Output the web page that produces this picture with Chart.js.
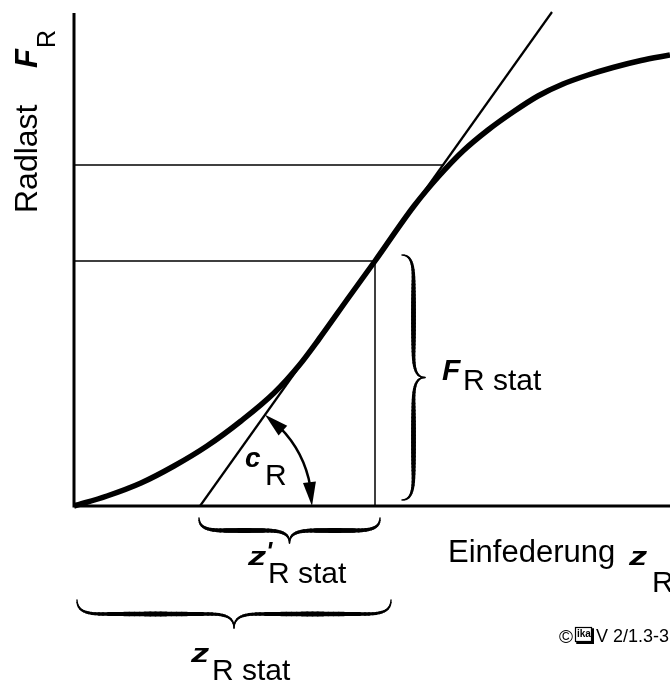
<!DOCTYPE html>
<html lang="de">
<head>
<meta charset="utf-8">
<title>Radlast über Einfederung</title>
<script src="https://cdn.jsdelivr.net/npm/chart.js@4.4.1/dist/chart.umd.min.js"></script>
<style>
  html, body { margin: 0; padding: 0; background: #fff; }
  canvas { display: block; }
</style>
</head>
<body>
<canvas id="chart" width="670" height="684"></canvas>
<script>
// Federkennlinie: Radlast F_R über Einfederung z_R (Achsen ohne Teilung)
const curveZ = [0, 33, 67, 100, 133, 167, 200, 225, 245, 275, 301, 340, 365, 389, 414, 439, 464, 489, 514, 539, 567, 596];
const curveF = [0, 10, 23, 40, 60, 85, 113, 140.5, 167, 209, 245, 300, 330, 355, 376, 394, 410, 422, 431, 438.5, 445.5, 451];

// Arbeitspunkt und Tangente im Arbeitspunkt
const zStat = 301;
const fStat = 245;
const tangentZ = [126, 478];
const tangentF = [0, 494];
const upperZ = [0, 370];
const upperF = [341, 341];

const zMax = 596;
const fMax = 493;

const FONT = '"Liberation Sans", Arial, Helvetica, sans-serif';

const pts = (xs, ys) => xs.map((x, i) => ({ x, y: ys[i] }));

function text(ctx, str, x, y, size, style, sx, sy) {
  ctx.save();
  ctx.translate(x, y);
  ctx.scale(sx || 1, sy || 1);
  ctx.font = (style ? style + ' ' : '') + size + 'px ' + FONT;
  ctx.fillText(str, 0, 0);
  ctx.restore();
}

// curly brace, stroked with a width that swells along each arm
function brace(ctx, x0, y0, len, depth, vertical) {
  const k = Math.min(len * 0.14, 26);
  const m = depth * 0.5;
  const h = len / 2;
  const bez = (p, t) => {
    const s = 1 - t;
    return [
      s*s*s*p[0][0] + 3*s*s*t*p[1][0] + 3*s*t*t*p[2][0] + t*t*t*p[3][0],
      s*s*s*p[0][1] + 3*s*s*t*p[1][1] + 3*s*t*t*p[2][1] + t*t*t*p[3][1]
    ];
  };
  const half = [];
  const seg1 = [[0, 0], [0, m * 0.8], [k * 0.35, m], [k, m]];
  const seg3 = [[h - k, m], [h - k * 0.35, m], [h, m + (depth - m) * 0.2], [h, depth]];
  for (let i = 0; i <= 12; i++) half.push(bez(seg1, i / 12));
  for (let i = 1; i <= 20; i++) half.push([k + (h - 2 * k) * i / 20, m]);
  for (let i = 1; i <= 12; i++) half.push(bez(seg3, i / 12));

  let total = 0;
  const acc = [0];
  for (let i = 1; i < half.length; i++) {
    total += Math.hypot(half[i][0] - half[i-1][0], half[i][1] - half[i-1][1]);
    acc.push(total);
  }
  const width = t => 1.2 + 3.6 * Math.pow(Math.sin(Math.PI * t), 0.8);
  const map = (u, v) => vertical ? [x0 + v, y0 + u] : [x0 + u, y0 + v];

  ctx.lineCap = 'round';
  [1, -1].forEach(side => {
    for (let i = 1; i < half.length; i++) {
      const t = (acc[i] + acc[i-1]) / 2 / total;
      const uA = side > 0 ? half[i-1][0] : len - half[i-1][0];
      const uB = side > 0 ? half[i][0] : len - half[i][0];
      const a = map(uA, half[i-1][1]);
      const b = map(uB, half[i][1]);
      ctx.lineWidth = width(t);
      ctx.beginPath();
      ctx.moveTo(a[0], a[1]);
      ctx.lineTo(b[0], b[1]);
      ctx.stroke();
    }
  });
}

// double-headed arc arrow around (cx, cy) from angle a0 to a1
function arcArrow(ctx, cx, cy, r, a0, a1) {
  const headLen = 24, headHalf = 6.5;
  const d = headLen / r;
  ctx.lineWidth = 2.5;
  ctx.lineCap = 'butt';
  ctx.beginPath();
  ctx.arc(cx, cy, r, a0 + d * 0.8, a1 - d * 0.8);
  ctx.stroke();
  const head = (tipA, baseA) => {
    const tx = cx + r * Math.cos(tipA), ty = cy + r * Math.sin(tipA);
    const bx = cx + r * Math.cos(baseA), by = cy + r * Math.sin(baseA);
    const dx = tx - bx, dy = ty - by, l = Math.hypot(dx, dy);
    const nx = -dy / l * headHalf, ny = dx / l * headHalf;
    ctx.beginPath();
    ctx.moveTo(tx, ty);
    ctx.lineTo(bx + nx, by + ny);
    ctx.lineTo(bx - nx, by - ny);
    ctx.closePath();
    ctx.fill();
  };
  head(a0, a0 + d);
  head(a1, a1 - d);
}

const annotations = {
  id: 'annotations',
  afterDatasetsDraw(chart) {
    const ctx = chart.ctx;
    const area = chart.chartArea;
    const px = v => chart.scales.x.getPixelForValue(v);
    const py = v => chart.scales.y.getPixelForValue(v);
    ctx.save();
    ctx.fillStyle = '#000';
    ctx.strokeStyle = '#000';

    // axes
    ctx.lineWidth = 3;
    ctx.lineCap = 'butt';
    ctx.beginPath();
    ctx.moveTo(area.left, area.top);
    ctx.lineTo(area.left, area.bottom + 1.5);
    ctx.moveTo(area.left - 1.5, area.bottom);
    ctx.lineTo(area.right, area.bottom);
    ctx.stroke();

    // c_R angle between tangent and abscissa
    const cx = px(tangentZ[0]), cy = py(tangentF[0]);
    const ang = Math.atan2(py(tangentF[1]) - cy, px(tangentZ[1]) - cx);
    arcArrow(ctx, cx, cy, 112, ang, 0);

    // braces
    brace(ctx, px(tangentZ[0]) - 1, py(0) + 12, px(zStat) - px(tangentZ[0]) + 6, 25, false);
    brace(ctx, px(0) + 3, py(0) + 94, px(zStat) - px(0) + 13, 28, false);
    brace(ctx, px(zStat) + 27, py(fStat) - 6, py(0) - py(fStat), 23, true);

    // labels
    ctx.textBaseline = 'alphabetic';
    ctx.textAlign = 'left';

    ctx.save();
    ctx.translate(37, 213);
    ctx.rotate(-Math.PI / 2);
    text(ctx, 'Radlast', 0, 0, 32);
    text(ctx, 'F', 145, 0, 31, 'italic bold');
    text(ctx, 'R', 165, 18, 25);
    ctx.restore();

    text(ctx, 'Einfederung', 448, 562, 31);
    text(ctx, 'z', 629, 565, 28, 'italic bold', 1.3, 0.9);
    text(ctx, 'R', 652, 592, 30);

    text(ctx, 'F', 442, 380, 30, 'italic bold');
    text(ctx, 'R stat', 463, 390, 30);

    text(ctx, 'c', 245, 467, 28, 'italic bold');
    text(ctx, 'R', 265, 485, 30);

    text(ctx, 'z', 248, 565, 28, 'italic bold', 1.3, 0.9);
    text(ctx, "'", 266, 560, 26, 'italic bold');
    text(ctx, 'R stat', 268, 583, 30);

    text(ctx, 'z', 191, 662, 28, 'italic bold', 1.3, 0.9);
    text(ctx, 'R stat', 212, 680, 30);

    // source mark
    text(ctx, '\u00A9', 559, 643, 19);
    ctx.lineWidth = 1.2;
    ctx.strokeRect(575.5, 627.5, 16, 14);
    ctx.lineWidth = 2;
    ctx.beginPath();
    ctx.moveTo(577, 643);
    ctx.lineTo(593, 643);
    ctx.lineTo(593, 629);
    ctx.stroke();
    text(ctx, 'ika', 577, 637, 10, 'bold');
    text(ctx, 'V 2/1.3-3', 596, 642, 18);

    ctx.restore();
  }
};

new Chart(document.getElementById('chart'), {
  type: 'scatter',
  data: {
    datasets: [
      {
        data: pts(curveZ, curveF),
        showLine: true,
        borderColor: '#000',
        borderWidth: 5.5,
        cubicInterpolationMode: 'monotone',
        pointRadius: 0,
        clip: false
      },
      {
        data: pts(tangentZ, tangentF),
        showLine: true,
        borderColor: '#000',
        borderWidth: 2.2,
        pointRadius: 0,
        clip: false
      },
      {
        data: pts(upperZ, upperF),
        showLine: true,
        borderColor: '#000',
        borderWidth: 1.5,
        pointRadius: 0
      },
      {
        data: pts([0, zStat, zStat], [fStat, fStat, 0]),
        showLine: true,
        borderColor: '#000',
        borderWidth: 1.5,
        pointRadius: 0
      }
    ]
  },
  options: {
    responsive: false,
    animation: false,
    events: [],
    layout: { padding: { left: 74, top: 13, right: 0, bottom: 178 } },
    plugins: { legend: { display: false }, tooltip: { enabled: false } },
    scales: {
      x: { type: 'linear', min: 0, max: zMax, display: false },
      y: { type: 'linear', min: 0, max: fMax, display: false }
    }
  },
  plugins: [annotations]
});
</script>
</body>
</html>
